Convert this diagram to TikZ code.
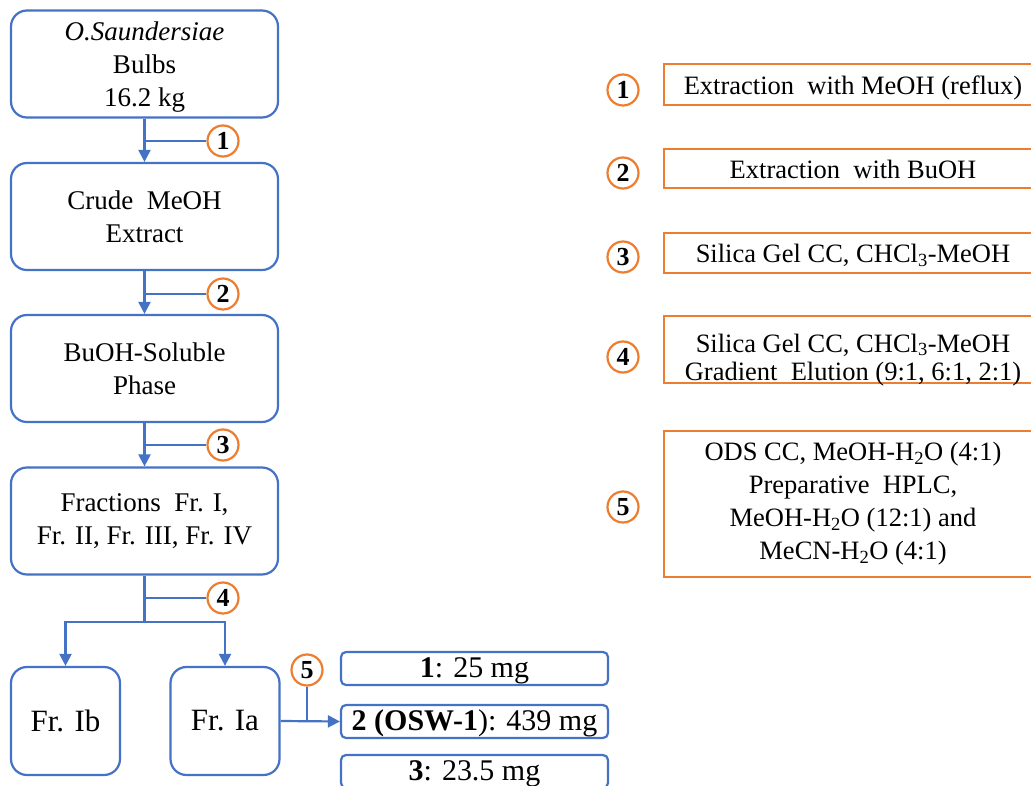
\documentclass[tikz,border=0pt]{standalone}
\usepackage{fontspec}
\setmainfont{Liberation Serif}
\usetikzlibrary{arrows.meta}
\definecolor{flowblue}{HTML}{4472C4}
\definecolor{steporange}{HTML}{ED7D31}
\tikzset{
  stage/.style={draw=flowblue, line width=2.2pt, rounded corners=16pt, align=center,
    inner sep=0pt, minimum width=267pt, minimum height=107pt,
    font=\fontsize{27}{33}\selectfont},
  frac/.style={stage, minimum width=109pt, minimum height=108pt,
    font=\fontsize{31}{34}\selectfont},
  result/.style={draw=flowblue, line width=2.2pt, rounded corners=5pt, inner sep=0pt,
    minimum width=267pt, minimum height=33pt, font=\fontsize{30}{30}\selectfont,
    text height=20pt, text depth=2pt},
  stepnum/.style={circle, draw=steporange, line width=2.2pt, minimum size=31pt,
    inner sep=0pt, font=\fontsize{26}{26}\selectfont\bfseries},
  stepbox/.style={draw=steporange, line width=2.2pt, inner sep=0pt, align=center,
    minimum width=378pt, font=\fontsize{26.5}{33}\selectfont},
  steptext/.style={inner sep=0pt, align=center, font=\fontsize{26.5}{28.5}\selectfont},
  lowtext/.style={text height=20pt, text depth=-5pt},
  link/.style={draw=flowblue, line width=2.2pt},
  flow/.style={link, -{Triangle[length=12pt,width=12pt]}},
}
\begin{document}
\begin{tikzpicture}[x=1pt,y=-1pt]
\useasboundingbox (0,0) rectangle (1031,786);
\clip (0,0) rectangle (1031,786);

% main isolation sequence
\node[stage, text depth=-4pt] (a) at (144.5,64) {\textit{O.Saundersiae}\\Bulbs\\16.2 kg};
\node[stage] (b) at (144.5,216.5) {Crude\ \ MeOH\\Extract};
\node[stage] (c) at (144.5,368.5) {BuOH-Soluble\\Phase};
\node[stage] (d) at (144.5,521) {Fractions\ \ Fr. I,\\Fr. II, Fr. III, Fr. IV};
\node[frac] (ib) at (65.5,721) {Fr. Ib};
\node[frac] (ia) at (225,721) {Fr. Ia};

% isolated compounds
\node[result] (r1) at (474.5,668.5) {\textbf{1}: 25 mg};
\node[result] (r2) at (474.5,721.5) {\textbf{2 (OSW-1}): 439 mg};
\node[result] (r3) at (474.5,771.5) {\textbf{3}: 23.5 mg};

% step markers on the flow
\node[stepnum] (s1) at (223,141) {1};
\node[stepnum] (s2) at (223,294) {2};
\node[stepnum] (s3) at (223,445) {3};
\node[stepnum] (s4) at (223,598) {4};
\node[stepnum] (s5) at (307,670) {5};

% connectors
\draw[flow] (a.south) -- (b.north);
\draw[link] (a.south |- s1) -- (s1.west);
\draw[flow] (b.south) -- (c.north);
\draw[link] (b.south |- s2) -- (s2.west);
\draw[flow] (c.south) -- (d.north);
\draw[link] (c.south |- s3) -- (s3.west);
\coordinate (split) at (144.5,622);
\draw[link] (d.south) -- (split);
\draw[link] (d.south |- s4) -- (s4.west);
\draw[flow] (split) -| (ib.north);
\draw[flow] (split) -| (ia.north);
\draw[flow] (ia.east) -- (r2.west);
\draw[link] (s5.south) -- (s5.south |- ia.east);

% legend of the steps
\node[stepnum] (k1) at (623,90) {1};
\node[stepnum] (k2) at (623,173) {2};
\node[stepnum] (k3) at (623,257) {3};
\node[stepnum] (k4) at (623,357) {4};
\node[stepnum] (k5) at (623,507) {5};
\node[stepbox, lowtext, minimum height=41pt] (t1) at (853,84.5) {Extraction\ \ with\ MeOH (reflux)};
\node[stepbox, lowtext, minimum height=39pt] (t2) at (853,168.5) {Extraction\ \ with\ BuOH};
\node[stepbox, text height=19pt, text depth=-1pt, minimum height=40pt] (t3) at (853,253) {Silica Gel CC, CHCl\textsubscript{3}-MeOH};
\node[stepbox, minimum height=67pt] (t4) at (853,349.5) {};
\node[steptext] (t4text) at (853,360)
  {Silica Gel CC, CHCl\textsubscript{3}-MeOH\\Gradient\ \ Elution (9:1, 6:1, 2:1)};
\node[stepbox, minimum height=146pt] (t5) at (853,504)
  {ODS CC, MeOH-H\textsubscript{2}O\ (4:1)\\Preparative\ \ HPLC,\\MeOH-H\textsubscript{2}O\ (12:1) and\\MeCN-H\textsubscript{2}O\ (4:1)};
\end{tikzpicture}
\end{document}
